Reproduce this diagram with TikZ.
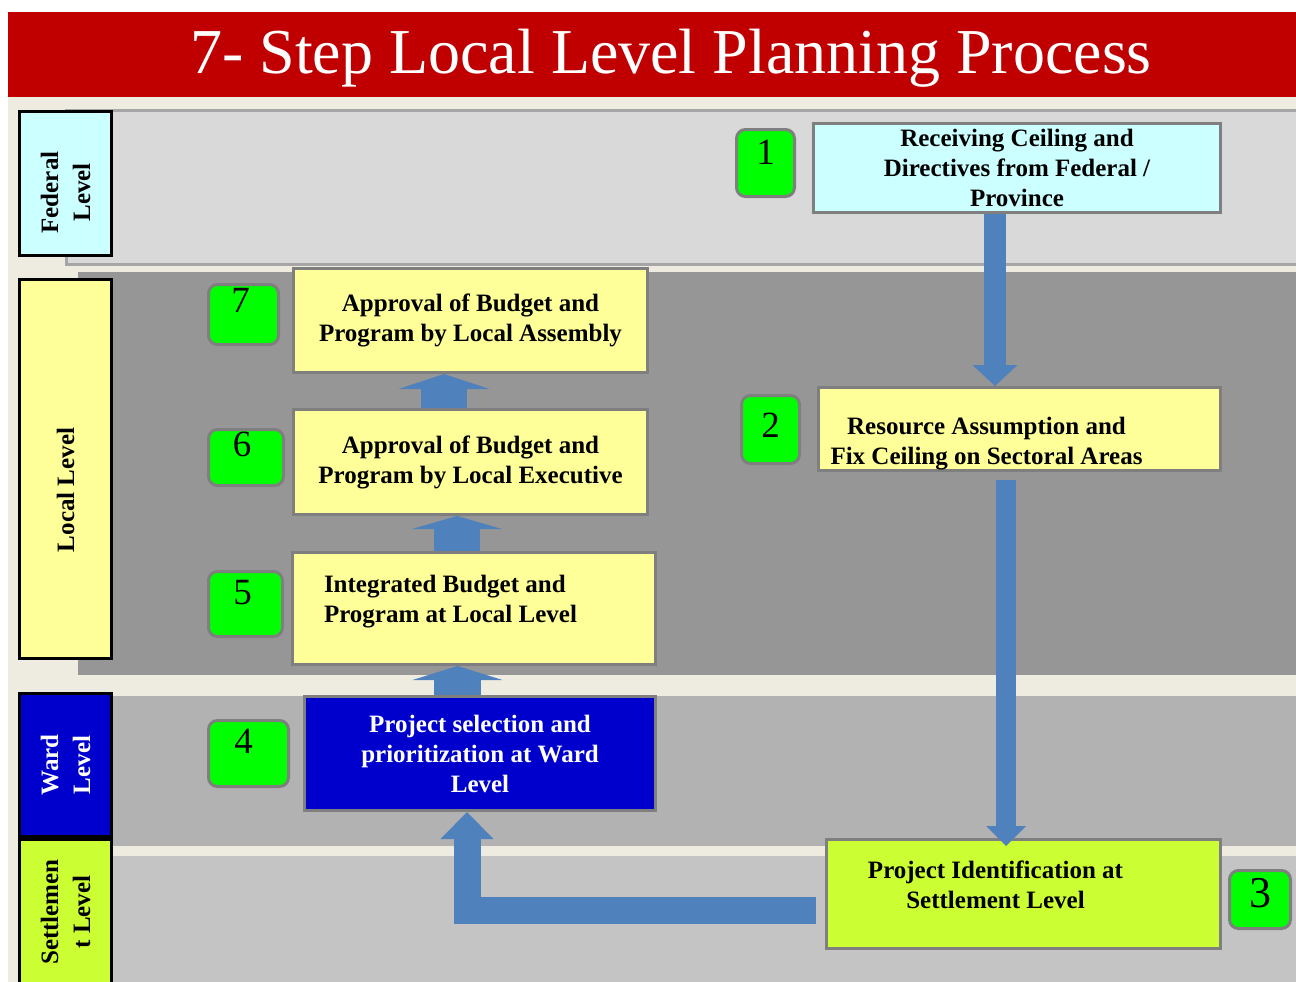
\documentclass[tikz,border=0pt]{standalone}
\usepackage{fontspec}
\setmainfont{Liberation Serif}
\usetikzlibrary{arrows.meta}

\definecolor{titlered}{HTML}{C00000}
\definecolor{pagebg}{HTML}{EEECE1}
\definecolor{fedgray}{HTML}{D9D9D9}
\definecolor{bandline}{HTML}{A6A6A6}
\definecolor{localgray}{HTML}{969696}
\definecolor{wardgray}{HTML}{B2B2B2}
\definecolor{setlgray}{HTML}{C4C4C4}
\definecolor{boxline}{HTML}{7F7F7F}
\definecolor{paleyellow}{HTML}{FFFF99}
\definecolor{palecyan}{HTML}{CCFFFF}
\definecolor{wardblue}{HTML}{0000CC}
\definecolor{setlgreen}{HTML}{CCFF33}
\definecolor{stepgreen}{HTML}{00FF00}
\definecolor{flowblue}{HTML}{4F81BD}

\begin{document}
\begin{tikzpicture}[x=1pt, y=-1pt,
  stepbox/.style={draw=boxline, line width=3, align=center, inner sep=0,
    font=\bfseries\fontsize{25}{30}\selectfont},
  numbox/.style={draw=boxline, line width=3, fill=stepgreen, rounded corners=9,
    inner sep=0, font=\fontsize{37}{37}\selectfont, text depth=#1},
  levelbox/.style={draw=black, line width=3, rotate=90, inner sep=0, align=center,
    minimum height=92, font=\bfseries\fontsize{25}{32}\selectfont},
  flow/.style n args={3}{draw=flowblue, line width=#1,
    -{Triangle[width=#2pt, length=#3pt, line width=0pt]}}]

\useasboundingbox (0,0) rectangle (1296,982);
\clip (0,0) rectangle (1296,982);
\fill[white] (0,0) rectangle (1296,982);
\fill[pagebg] (8,97) rectangle (1296,982);

% heading
\fill[titlered] (8,12) rectangle (1296,97);
\node[anchor=base, text=white, font=\fontsize{64}{70}\selectfont] (title) at (671,74)
  {7- Step Local Level Planning Process};

% level bands
\filldraw[fill=fedgray, draw=bandline, line width=3] (66,110) rectangle (1310,264);
\fill[localgray] (78,272) rectangle (1296,675);
\fill[wardgray] (100,696) rectangle (1296,846);
\fill[setlgray] (100,856) rectangle (1296,982);

% level names on the left
\node[levelbox, fill=palecyan, minimum width=144] (fed) at (65.5,183.5)
  {\hspace*{-18pt}Federal\\\hspace*{-18pt}Level};
\node[levelbox, fill=paleyellow, minimum width=379] (loc) at (65.5,469) {\hspace*{-42pt}Local Level};
\node[levelbox, fill=wardblue, text=white, minimum width=143] (ward) at (65.5,765) {Ward\\Level};
\node[levelbox, fill=setlgreen, minimum width=145] (setl) at (65.5,912) {Settlemen\\t Level};

% the seven steps
\node[stepbox, fill=palecyan, minimum width=407, minimum height=89] (s1) at (1017,168)
  {Receiving Ceiling and\\Directives from Federal /\\Province};
\node[stepbox, fill=paleyellow, minimum width=402, minimum height=83] (s2) at (1019.5,429)
  {\hspace*{-66pt}\rule{0pt}{46pt}Resource Assumption and\\\hspace*{-66pt}Fix Ceiling on Sectoral Areas};
\node[stepbox, fill=setlgreen, minimum width=394, minimum height=109] (s3) at (1023.5,894)
  {\hspace*{-56pt}Project Identification at\\\hspace*{-56pt}Settlement Level\rule[-18pt]{0pt}{18pt}};
\node[stepbox, fill=wardblue, text=white, minimum width=351, minimum height=114] (s4) at (480,753.5)
  {Project selection and\\prioritization at Ward\\Level};
\node[stepbox, fill=paleyellow, minimum width=363, minimum height=112, text width=300, align=flush left] (s5) at (474,608.5)
  {Integrated Budget and\\Program at Local Level\rule[-20pt]{0pt}{20pt}};
\node[stepbox, fill=paleyellow, minimum width=354, minimum height=105] (s6) at (470.5,462)
  {Approval of Budget and\\Program by Local Executive};
\node[stepbox, fill=paleyellow, minimum width=354, minimum height=104] (s7) at (470.5,320.5)
  {Approval of Budget and\\Program by Local Assembly};

% step numbers
\node[numbox=21, minimum width=58, minimum height=67] (n1) at (765.5,163) {1};
\node[numbox=8, minimum width=58, minimum height=68] (n2) at (770.5,429.5) {2};
\node[numbox=13, minimum width=61, minimum height=58, font=\fontsize{44}{44}\selectfont] (n3) at (1260,899.5) {3};
\node[numbox=24, minimum width=80, minimum height=66] (n4) at (248.5,753.5) {\hspace*{-10pt}4};
\node[numbox=23, minimum width=74, minimum height=65] (n5) at (245.5,604) {\hspace*{-6pt}5};
\node[numbox=26, minimum width=75, minimum height=56] (n6) at (246,457.5) {\hspace*{-8pt}6};
\node[numbox=28, minimum width=70, minimum height=60] (n7) at (243.5,314.5) {\hspace*{-6pt}7};

% flow between the steps
\draw[flow={22}{45}{21}] ([xshift=-22]s1.south) -- ([xshift=-22]s1.south |- s2.north);
\draw[flow={20}{40}{20}] ([xshift=-13.5,yshift=-8]s2.south) -- ([xshift=-13.5,yshift=-8]s2.south |- s3.north);
\draw[flow={27}{53}{27}] ([xshift=-9,yshift=-16]s3.west) -| ([xshift=-13]s4.south);
\draw[flow={47}{90}{14}] ([xshift=-22.5]s4.north) -- ([xshift=-22.5]s4.north |- s5.south);
\draw[flow={46}{90}{13}] ([xshift=-17]s5.north) -- ([xshift=-17]s5.north |- s6.south);
\draw[flow={46}{91}{15}] ([xshift=-26.5]s6.north) -- ([xshift=-26.5]s6.north |- s7.south);
\end{tikzpicture}
\end{document}
